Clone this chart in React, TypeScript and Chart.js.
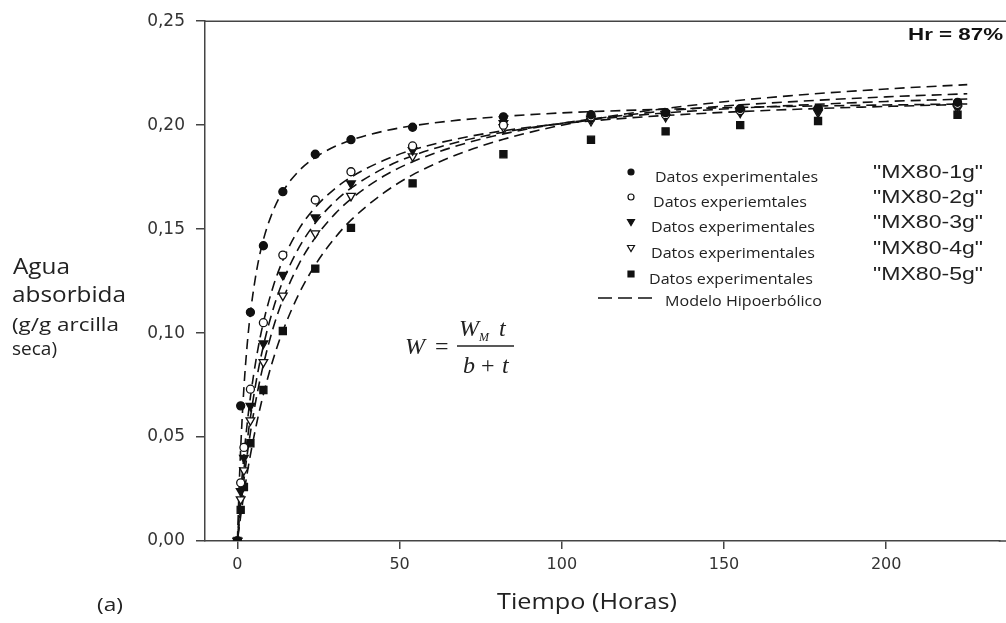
import React, { useEffect, useRef } from "react";
import { Chart, registerables } from "chart.js";

Chart.register(...registerables);

// ---- data ----
const T_EXP = [0, 1, 2, 4, 8, 14, 24, 35, 54, 82, 109, 132, 155, 179, 222];
const EXP_1G = [0, 0.065, null, 0.11, 0.142, 0.168, 0.186, 0.193, 0.199, 0.204, 0.205, 0.206, 0.208, 0.208, 0.211];
const EXP_2G = [0, 0.028, 0.045, 0.073, 0.105, 0.1375, 0.164, 0.1776, 0.19, 0.2, 0.204, 0.205, 0.207, 0.208, 0.21];
const EXP_3G = [0, 0.024, 0.04, 0.065, 0.095, 0.128, 0.1556, 0.172, 0.188, 0.201, 0.203, 0.205, 0.207, 0.207, 0.209];
const EXP_4G = [0, 0.02, 0.034, 0.058, 0.086, 0.118, 0.148, 0.166, 0.185, 0.199, 0.202, 0.204, 0.206, 0.206, 0.208];
const EXP_5G = [0, 0.015, 0.026, 0.047, 0.0726, 0.101, 0.131, 0.1506, 0.172, 0.186, 0.193, 0.197, 0.2, 0.202, 0.205];

const T_MODEL = [0, 0.5, 1, 2, 3, 4, 6, 8, 11, 14, 19, 24, 30, 35, 45, 54, 68, 82, 100, 120, 145, 170, 200, 225];
const MODEL_1G = [0, 0.0248, 0.0445, 0.0737, 0.0943, 0.1096, 0.1308, 0.1449, 0.1588, 0.1681, 0.1781, 0.1845, 0.1897, 0.1928, 0.1971, 0.1997, 0.2024, 0.2042, 0.2059, 0.2071, 0.2082, 0.209, 0.2097, 0.2102];
const MODEL_2G = [0, 0.012, 0.0227, 0.0411, 0.0564, 0.0692, 0.0896, 0.1051, 0.1223, 0.135, 0.1501, 0.1605, 0.1694, 0.175, 0.183, 0.1881, 0.1935, 0.1973, 0.2007, 0.2034, 0.2058, 0.2075, 0.209, 0.21];
const MODEL_3G = [0, 0.0097, 0.0186, 0.0343, 0.0478, 0.0595, 0.0787, 0.0939, 0.1115, 0.1249, 0.1412, 0.1529, 0.1632, 0.1697, 0.1792, 0.1853, 0.1919, 0.1966, 0.2009, 0.2043, 0.2073, 0.2094, 0.2114, 0.2126];
const MODEL_4G = [0, 0.0081, 0.0157, 0.0294, 0.0415, 0.0521, 0.0702, 0.0848, 0.1024, 0.1161, 0.1333, 0.1459, 0.1572, 0.1645, 0.1754, 0.1824, 0.1902, 0.1958, 0.2009, 0.2049, 0.2086, 0.2112, 0.2136, 0.2151];
const MODEL_5G = [0, 0.0061, 0.0119, 0.0227, 0.0325, 0.0414, 0.0571, 0.0705, 0.0873, 0.101, 0.119, 0.1328, 0.1457, 0.1543, 0.1673, 0.1761, 0.186, 0.1932, 0.2, 0.2055, 0.2104, 0.2141, 0.2174, 0.2195];

const X_TICKS = [0, 50, 100, 150, 200];
const Y_TICKS = [0, 0.05, 0.1, 0.15, 0.2, 0.25];
const SERIES_NAMES = ['"MX80-1g"', '"MX80-2g"', '"MX80-3g"', '"MX80-4g"', '"MX80-5g"'];
const LEGEND_LABELS = [
  "Datos experimentales",
  "Datos experiemtales",
  "Datos experimentales",
  "Datos experimentales",
  "Datos experimentales",
];
const MODEL_LABEL = "Modelo Hipoerbólico";
const Y_TITLE = ["Agua", "absorbida", "(g/g arcilla", "seca)"];
const X_TITLE = "Tiempo (Horas)";
const HR_LABEL = "Hr = 87%";
const PANEL_LABEL = "(a)";

const INK = "#111";
const AXIS = "#444";

type Marker = { style: string; rotation: number; fill: string; radius: number };
const MARKERS: Marker[] = [
  { style: "circle", rotation: 0, fill: INK, radius: 4 },
  { style: "circle", rotation: 0, fill: "#fff", radius: 4 },
  { style: "triangle", rotation: 180, fill: INK, radius: 5 },
  { style: "triangle", rotation: 180, fill: "#fff", radius: 5 },
  { style: "rect", rotation: 0, fill: INK, radius: 5 },
];

const toXY = (xs: number[], ys: (number | null)[]) =>
  xs.map((x, i) => ({ x, y: ys[i] })).filter((p) => p.y !== null);

function fitText(
  ctx: CanvasRenderingContext2D,
  text: string,
  x: number,
  y: number,
  font: string,
  width: number | null,
  color: string
) {
  ctx.save();
  ctx.font = font;
  ctx.fillStyle = color;
  ctx.textAlign = "left";
  ctx.textBaseline = "middle";
  const m = ctx.measureText(text).width;
  const sx = width ? width / m : 1;
  ctx.translate(x, y);
  ctx.scale(sx, 1);
  ctx.fillText(text, 0, 0);
  ctx.restore();
}

function drawMarker(ctx: CanvasRenderingContext2D, kind: number, x: number, y: number) {
  ctx.save();
  ctx.fillStyle = MARKERS[kind].fill;
  ctx.strokeStyle = INK;
  ctx.lineWidth = 1.2;
  ctx.beginPath();
  if (kind <= 1) {
    ctx.arc(x, y, 3, 0, Math.PI * 2);
  } else if (kind <= 3) {
    ctx.moveTo(x - 3.5, y - 2.5);
    ctx.lineTo(x + 3.5, y - 2.5);
    ctx.lineTo(x, y + 3.5);
    ctx.closePath();
  } else {
    ctx.rect(x - 3, y - 3, 6, 6);
  }
  ctx.fill();
  ctx.stroke();
  ctx.restore();
}

const decorPlugin = {
  id: "decor",
  afterDraw(chart: any) {
    const ctx: CanvasRenderingContext2D = chart.ctx;
    const { left, top, right, bottom } = chart.chartArea;
    // top frame line and bottom axis continued to the edge
    ctx.save();
    ctx.strokeStyle = AXIS;
    ctx.lineWidth = 1.5;
    ctx.beginPath();
    ctx.moveTo(left, top);
    ctx.lineTo(chart.width, top);
    ctx.moveTo(right - 1, bottom);
    ctx.lineTo(chart.width, bottom);
    ctx.stroke();
    ctx.restore();

    // y title (horizontal, to the left)
    fitText(ctx, Y_TITLE[0], 13, 268, '22px "Open Sans"', 57, "#222");
    fitText(ctx, Y_TITLE[1], 12, 296, '22px "Open Sans"', 114, "#222");
    fitText(ctx, Y_TITLE[2], 12, 326, '18px "Open Sans"', 107, "#222");
    fitText(ctx, Y_TITLE[3], 12, 350, '18px "Open Sans"', 45, "#222");

    // x title
    fitText(ctx, X_TITLE, 497, 603, '21px "Open Sans"', 180, "#222");
    fitText(ctx, PANEL_LABEL, 97, 606, '18px "Open Sans"', 26, "#222");

    // Hr
    fitText(ctx, HR_LABEL, 908, 35, 'bold 17px "Liberation Sans"', 95, "#111");

    // legend
    const ly = [172, 197, 222, 248, 274];
    const lx = [655, 653, 651, 651, 649];
    const lw = [163, 154, 164, 164, 164];
    ly.forEach((y, i) => {
      drawMarker(ctx, i, 631, y);
      fitText(ctx, LEGEND_LABELS[i], lx[i], y + 6, '14px "Open Sans"', lw[i], "#222");
      fitText(ctx, SERIES_NAMES[i], 873, y + 1, '19px "Liberation Sans"', 110, "#222");
    });
    ctx.save();
    ctx.strokeStyle = INK;
    ctx.lineWidth = 1.5;
    ctx.setLineDash([14, 6]);
    ctx.beginPath();
    ctx.moveTo(598, 298);
    ctx.lineTo(657, 298);
    ctx.stroke();
    ctx.restore();
    fitText(ctx, MODEL_LABEL, 665, 302, '14px "Open Sans"', 157, "#222");

    // formula W = W_M t / (b + t)
    ctx.save();
    ctx.fillStyle = "#222";
    ctx.textBaseline = "alphabetic";
    ctx.font = 'italic 24px "Liberation Serif"';
    ctx.fillText("W", 405, 354);
    ctx.fillText("W", 459, 336);
    ctx.fillText("t", 499, 336);
    ctx.fillText("b", 463, 373);
    ctx.fillText("t", 502, 373);
    ctx.font = 'italic 12px "Liberation Serif"';
    ctx.fillText("M", 479, 341);
    ctx.font = '24px "Liberation Serif"';
    ctx.fillText("=", 435, 354);
    ctx.fillText("+", 481, 373);
    ctx.strokeStyle = "#222";
    ctx.lineWidth = 1.3;
    ctx.beginPath();
    ctx.moveTo(457, 346);
    ctx.lineTo(514, 346);
    ctx.stroke();
    ctx.restore();
  },
};

export default function App() {
  const ref = useRef<HTMLCanvasElement | null>(null);

  useEffect(() => {
    document.body.style.margin = "0";
    if (!ref.current) return;
    const exp = [EXP_1G, EXP_2G, EXP_3G, EXP_4G, EXP_5G];
    const models = [MODEL_1G, MODEL_2G, MODEL_3G, MODEL_4G, MODEL_5G];
    const datasets: any[] = [];
    exp.forEach((ys, i) => {
      const m = MARKERS[i];
      datasets.push({
        label: SERIES_NAMES[i],
        data: toXY(T_EXP, ys),
        showLine: false,
        pointStyle: m.style,
        rotation: m.rotation,
        pointRadius: m.radius,
        pointBackgroundColor: m.fill,
        pointBorderColor: INK,
        pointBorderWidth: 1.3,
      });
    });
    models.forEach((ys, i) => {
      datasets.push({
        label: "Modelo " + SERIES_NAMES[i],
        data: toXY(T_MODEL, ys),
        showLine: true,
        pointRadius: 0,
        borderColor: INK,
        borderWidth: 1.6,
        borderDash: [10, 6],
        borderDashOffset: i * 3,
        cubicInterpolationMode: "monotone",
        fill: false,
      });
    });

    const chart = new Chart(ref.current, {
      type: "scatter",
      data: { datasets },
      options: {
        animation: false,
        responsive: true,
        maintainAspectRatio: false,
        layout: { padding: { top: 20, left: 0, right: 0, bottom: 0 } },
        plugins: { legend: { display: false }, tooltip: { enabled: false } },
        scales: {
          x: {
            type: "linear",
            min: -10,
            max: 235,
            afterFit: (s: any) => {
              s.height = 82;
              s.paddingLeft = 0;
              s.paddingRight = 0;
            },
            afterBuildTicks: (s: any) => {
              s.ticks = X_TICKS.map((v) => ({ value: v }));
            },
            ticks: {
              color: "#333",
              font: { family: "DejaVu Sans", size: 16 },
              padding: 6,
              maxRotation: 0,
            },
            grid: { drawOnChartArea: false, drawTicks: true, tickLength: 8, color: AXIS, lineWidth: 1.5 },
            border: { display: true, color: AXIS, width: 1.5 },
          },
          y: {
            type: "linear",
            min: 0,
            max: 0.25,
            afterFit: (s: any) => {
              s.width = 205;
            },
            afterBuildTicks: (s: any) => {
              s.ticks = Y_TICKS.map((v) => ({ value: v }));
            },
            ticks: {
              color: "#333",
              font: { family: "DejaVu Sans", size: 17 },
              padding: 11,
              callback: (v: any) => Number(v).toFixed(2).replace(".", ","),
            },
            grid: { drawOnChartArea: false, drawTicks: true, tickLength: 9, color: AXIS, lineWidth: 1.5 },
            border: { display: true, color: AXIS, width: 1.5 },
          },
        },
      },
      plugins: [decorPlugin],
    });
    return () => chart.destroy();
  }, []);

  return (
    <div style={{ width: 1006, height: 623, position: "relative", background: "#fff" }}>
      <canvas ref={ref} />
    </div>
  );
}
